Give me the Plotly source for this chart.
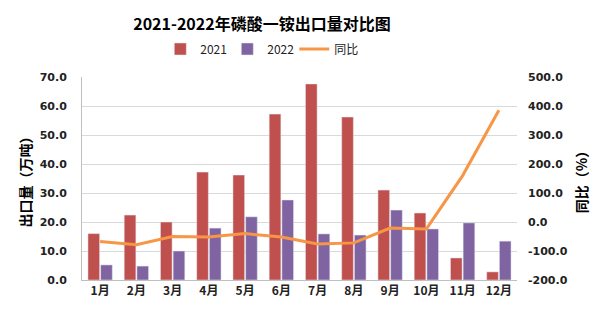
import plotly.graph_objects as go

months = ["1月", "2月", "3月", "4月", "5月", "6月", "7月", "8月", "9月", "10月", "11月", "12月"]
y2021 = [16.0, 22.4, 20.0, 37.2, 36.2, 57.2, 67.6, 56.2, 31.0, 23.1, 7.6, 2.8]
y2022 = [5.2, 4.8, 10.0, 17.9, 21.8, 27.6, 15.9, 15.5, 24.1, 17.6, 19.7, 13.4]
yoy = [-67, -78, -50, -52, -40, -52, -76, -72, -21, -24, 160, 385]
left_ticks = [0, 10, 20, 30, 40, 50, 60, 70]
right_ticks = [-200, -100, 0, 100, 200, 300, 400, 500]

num_font = dict(family="Tahoma, DejaVu Sans, sans-serif", size=11, color="#222", weight="bold")
cjk = "Noto Sans CJK SC"

fig = go.Figure()
fig.add_trace(go.Bar(x=months, y=y2021, name="2021", marker_color="#C0504D"))
fig.add_trace(go.Bar(x=months, y=y2022, name="2022", marker_color="#8064A2"))
fig.add_trace(go.Scatter(x=months, y=yoy, name="同比", mode="lines",
                         line=dict(color="#F79646", width=3), yaxis="y2"))

fig.update_layout(
    width=605, height=321,
    margin=dict(l=82, r=88, t=77, b=41),
    paper_bgcolor="white", plot_bgcolor="white",
    barmode="group", bargap=0.3, bargroupgap=0.08,
    title=dict(text="2021-2022年磷酸一铵出口量对比图", x=0.433, xanchor="center",
               y=0.925, yanchor="middle",
               font=dict(family=cjk, size=16, color="black", weight="bold")),
    legend=dict(orientation="h", x=0.18, xanchor="left", y=1.138, yanchor="middle",
                font=dict(family=cjk, size=12, color="#222"), itemwidth=30,
                entrywidth=22, entrywidthmode="pixels",
                traceorder="normal"),
    xaxis=dict(tickfont=dict(family=cjk, size=12, color="#222", weight="bold"),
               showline=True, linecolor="#BFBFBF", linewidth=1, ticks=""),
    yaxis=dict(range=[0, 70], tickvals=left_ticks,
               ticktext=[f"{v:.1f}" for v in left_ticks],
               tickfont=num_font, showgrid=True, gridcolor="#D9D9D9",
               showline=True, linecolor="#BFBFBF", zeroline=False,
               ticklabelstandoff=12,
               title=dict(text="出口量（万吨）", standoff=4,
                          font=dict(family=cjk, size=14, color="black", weight="bold"))),
    yaxis2=dict(range=[-200, 500], tickvals=right_ticks,
                ticktext=[f"{v:.1f}" for v in right_ticks],
                tickfont=num_font, overlaying="y", side="right", showgrid=False,
                zeroline=False, ticklabelstandoff=10,
                title=dict(text="同比（%）", standoff=10,
                           font=dict(family=cjk, size=14, color="black", weight="bold"))),
)

fig.write_html("out.html")
